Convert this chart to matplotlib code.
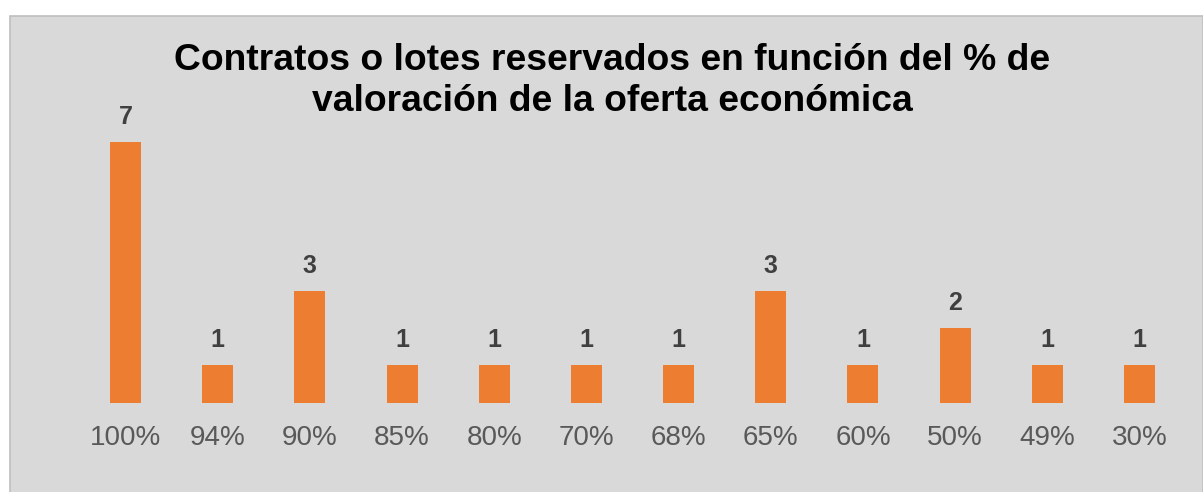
import matplotlib.pyplot as plt
from matplotlib.patches import Rectangle

# datos del grafico
categorias = ['100%', '94%', '90%', '85%', '80%', '70%', '68%', '65%', '60%', '50%', '49%', '30%']
contratos = [7, 1, 3, 1, 1, 1, 1, 3, 1, 2, 1, 1]
titulo = 'Contratos o lotes reservados en función del % de\nvaloración de la oferta económica'

W, H = 1203, 492
plt.rcParams['font.family'] = ['Liberation Sans', 'DejaVu Sans']

fig = plt.figure(figsize=(W / 100, H / 100), dpi=100)
fig.patch.set_facecolor('white')

# fondo gris del area del grafico
fondo = Rectangle((10 / W, -0.01), (W - 10.5) / W, (H - 16) / H + 0.01,
                  transform=fig.transFigure, facecolor='#D9D9D9',
                  edgecolor='#BFBFBF', linewidth=1.2, zorder=-1)
fig.patches.append(fondo)

ax = fig.add_axes([79.4 / W, (H - 402.5) / H, (1185.6 - 79.4) / W, 297.6 / H])
ax.set_facecolor('none')

x = range(len(categorias))
barras = ax.bar(x, contratos, width=0.336, color='#ED7D31')
ax.set_xlim(-0.5, len(categorias) - 0.5)
ax.set_ylim(0, 8)

for b, v in zip(barras, contratos):
    ax.annotate(str(v), (b.get_x() + b.get_width() / 2, b.get_height()),
                xytext=(0, 9.5), textcoords='offset points', ha='center', va='bottom',
                fontsize=18, fontweight='bold', color='#404040', annotation_clip=False)

ax.set_xticks(list(x))
ax.set_xticklabels(categorias, fontsize=20, color='#595959')
ax.tick_params(axis='x', length=0, pad=16)
ax.set_yticks([])
for s in ax.spines.values():
    s.set_visible(False)

fig.text(612.5 / W, (H - 43) / H, titulo, ha='center', va='top', fontsize=26.8,
         fontweight='bold', color='black', linespacing=1.24)

fig.savefig('out.png', dpi=100, facecolor=fig.get_facecolor())
